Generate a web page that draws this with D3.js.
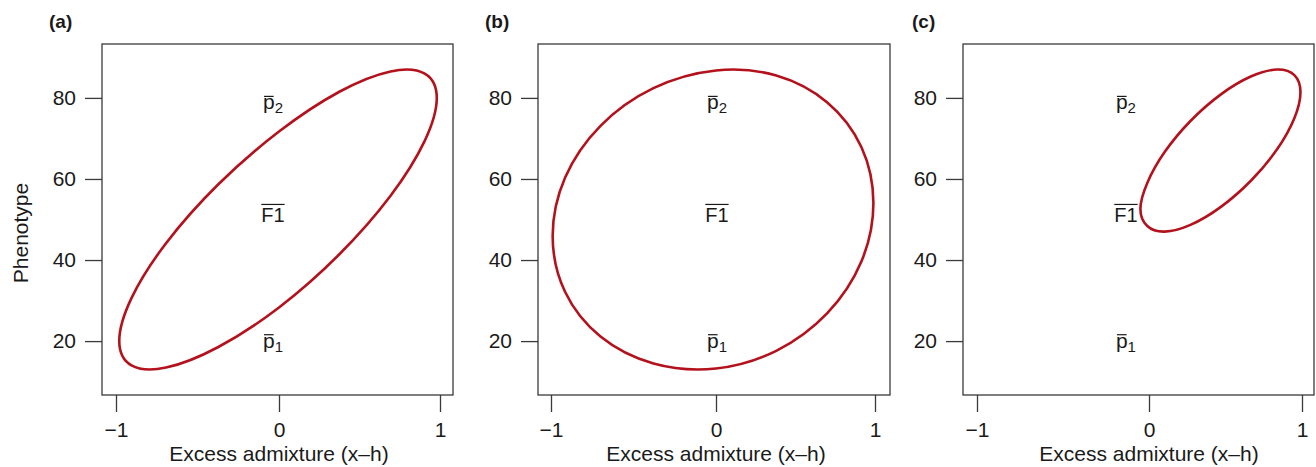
<!doctype html>
<html>
  <head>
    <script src="https://cdnjs.cloudflare.com/ajax/libs/d3/7.8.5/d3.min.js"></script>
    <style>
      body { margin: 0; background: #fff; }
      svg text { font-family: "Liberation Sans", Arial, Helvetica, sans-serif; fill: #1a1a1a; }
      .box { fill: none; stroke: #3a3a3a; stroke-width: 1.3; }
      .ring { fill: none; stroke: #b3121d; stroke-width: 2.6; }
      .tick line { stroke: #3a3a3a; stroke-width: 1.3; }
      .tick text { font-size: 21px; }
      .bar { stroke: #1a1a1a; stroke-width: 1.2; }
    </style>
  </head>
  <body>
    <svg id="chart" width="1316" height="467"></svg>
    <script>
      // values
      var panelNames = ["(a)", "(b)", "(c)"];
      var xTicks = [-1, 0, 1];
      var yTicks = [20, 40, 60, 80];
      var xTitle = "Excess admixture (x\u2013h)";
      var yTitle = "Phenotype";

      // points: [admixture, phenotype]
      var ellipseA = [[0.98,79.97],[0.905,85.99],[0.693,86.53],[0.375,81.52],[0,71.70],[-0.375,58.58],
        [-0.693,44.15],[-0.905,30.61],[-0.98,20.03],[-0.905,14.01],[-0.693,13.47],[-0.375,18.48],
        [0,28.30],[0.375,41.42],[0.693,55.85],[0.905,69.39]];
      var ellipseB = [[0.99,54.07],[0.915,67.83],[0.700,78.88],[0.379,85.53],[0,86.77],[-0.379,82.41],
        [-0.700,73.12],[-0.915,60.31],[-0.99,45.93],[-0.915,32.17],[-0.700,21.12],[-0.379,14.47],
        [0,13.23],[0.379,17.59],[0.700,26.88],[0.915,39.69]];
      var ellipseC = [[0.99,81.4],[0.950,85.61],[0.838,86.99],[0.669,85.33],[0.47,80.88],[0.271,74.31],
        [0.102,66.63],[-0.010,59.01],[-0.05,52.6],[-0.010,48.39],[0.102,47.01],[0.271,48.67],
        [0.47,53.12],[0.669,59.69],[0.838,67.37],[0.950,74.99]];

      // mean labels: p2 bar, F1 bar, p1 bar
      var labelKinds = ["p2", "F1", "p1"];
      var labelY = [78.4, 51.0, 19.6];
      var labelX = [-0.037, 0.006, -0.134];

      var svg = d3.select("#chart");
      var plotTop = 44, plotBottom = 395;

      var panels = [
        {ring: ellipseA, left: 102, right: 453, ticks: [116, 279, 440], tagX: 49},
        {ring: ellipseB, left: 538, right: 890, ticks: [551, 716, 875], tagX: 485},
        {ring: ellipseC, left: 963, right: 1314, ticks: [977, 1149, 1302], tagX: 912}
      ];

      var y = d3.scaleLinear().domain([6.7, 93.3]).range([plotBottom, plotTop]);

      panels.forEach(function(p, i) {
        var x = d3.scaleLinear()
          .domain([-1.08, -1, 0, 1, 1.08])
          .range([p.left, p.ticks[0], p.ticks[1], p.ticks[2], p.right]);
        var g = svg.append("g");

        g.append("text")
          .attr("x", p.tagX).attr("y", 28)
          .style("font-size", "19px").style("font-weight", "bold")
          .text(panelNames[i]);

        g.append("rect").attr("class", "box")
          .attr("x", p.left).attr("y", plotTop)
          .attr("width", p.right - p.left).attr("height", plotBottom - plotTop);

        var xa = g.append("g").attr("transform", "translate(0," + plotBottom + ")")
          .call(d3.axisBottom(x).tickValues(xTicks).tickSize(17).tickPadding(10)
            .tickFormat(d => d < 0 ? "\u2212" + Math.abs(d) : d));
        xa.select(".domain").remove();

        var ya = g.append("g").attr("transform", "translate(" + p.left + ",0)")
          .call(d3.axisLeft(y).tickValues(yTicks).tickSize(17).tickPadding(9));
        ya.select(".domain").remove();

        g.append("text")
          .attr("x", x(0)).attr("y", 461)
          .attr("text-anchor", "middle").style("font-size", "21px")
          .text(xTitle);

        g.append("path").attr("class", "ring")
          .attr("d", d3.line().x(d => x(d[0])).y(d => y(d[1]))
            .curve(d3.curveCardinalClosed.tension(0))(p.ring));

        labelKinds.forEach(function(k, j) {
          var cx = x(labelX[i]);
          var cy = y(labelY[j]);
          if (k == "F1") {
            var t = g.append("text").attr("x", cx).attr("y", cy + 7)
              .attr("text-anchor", "middle").style("font-size", "20px").text("F1");
            var w = t.node().getComputedTextLength();
            g.append("line").attr("class", "bar")
              .attr("x1", cx - w / 2).attr("x2", cx + w / 2)
              .attr("y1", cy - 11).attr("y2", cy - 11);
          } else {
            var base = cy + 5;
            var t = g.append("text").attr("y", base).style("font-size", "21px");
            t.append("tspan").text("p");
            t.append("tspan").attr("dy", 4).style("font-size", "15px").text(k.slice(1));
            var w = t.node().getComputedTextLength();
            var pw = t.node().getSubStringLength(0, 1);
            var x0 = cx - w / 2;
            t.attr("x", x0);
            g.append("line").attr("class", "bar")
              .attr("x1", x0 + 1).attr("x2", x0 + pw - 1)
              .attr("y1", base - 13).attr("y2", base - 13);
          }
        });
      });

      svg.append("text")
        .attr("transform", "translate(28,233) rotate(-90)")
        .attr("text-anchor", "middle").style("font-size", "21px")
        .text(yTitle);
    </script>
  </body>
</html>
